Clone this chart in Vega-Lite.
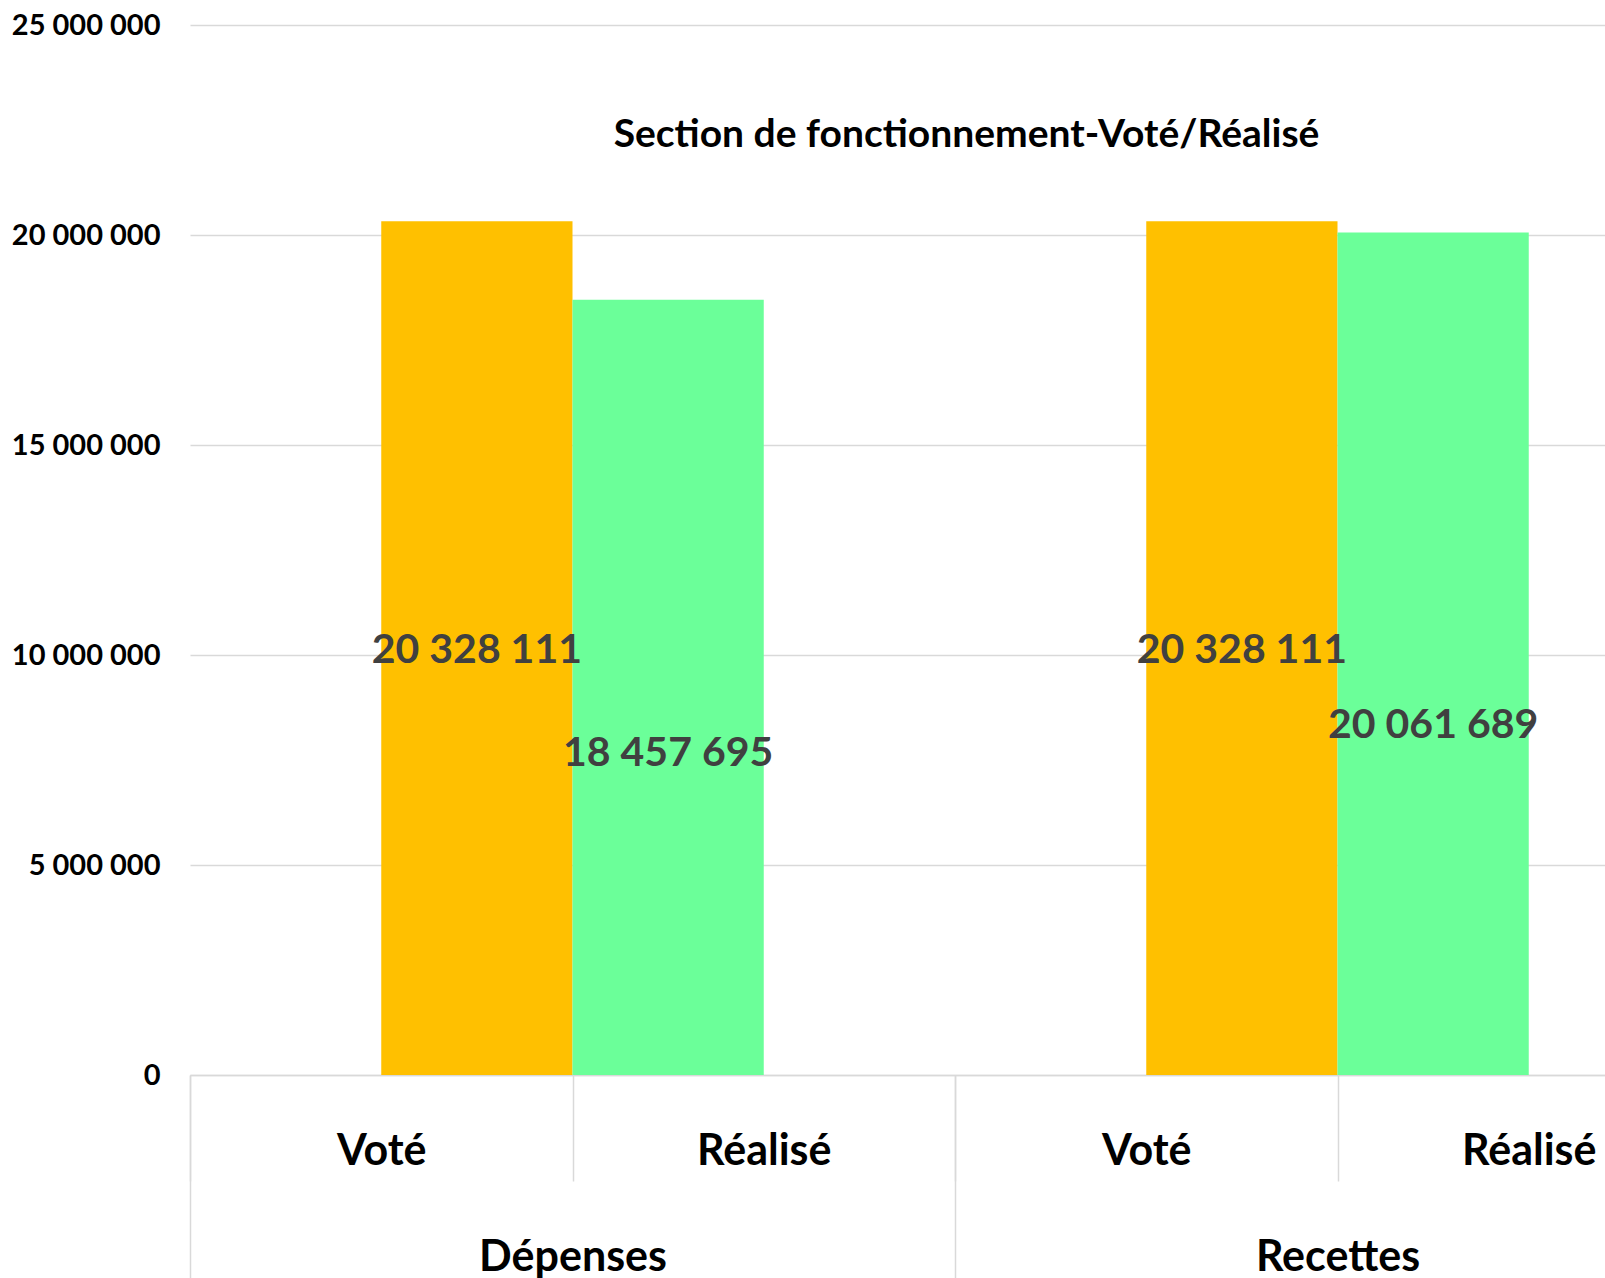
{
  "$schema": "https://vega.github.io/schema/vega-lite/v6.json",
  "autosize": {"type": "none"},
  "padding": {"left": 190, "top": 25, "right": 0, "bottom": 203},
  "width": 1415,
  "height": 1050,
  "background": "white",
  "config": {
    "font": "Lato",
    "view": {"stroke": null},
    "locale": {"number": {"decimal": ",", "thousands": " ", "grouping": [3], "currency": ["", " €"]}}
  },
  "title": {
    "text": "Section de fonctionnement-Voté/Réalisé",
    "font": "Lato",
    "fontSize": 39,
    "fontWeight": "bold",
    "color": "black",
    "anchor": "middle",
    "frame": "group",
    "baseline": "alphabetic",
    "offset": -175,
    "dx": 69
  },
  "data": {
    "values": [
      {"groupe": "Dépenses", "poste": "Voté", "cle": "Dépenses|Voté", "montant": 20328111},
      {"groupe": "Dépenses", "poste": "Réalisé", "cle": "Dépenses|Réalisé", "montant": 18457695},
      {"groupe": "Recettes", "poste": "Voté", "cle": "Recettes|Voté", "montant": 20328111},
      {"groupe": "Recettes", "poste": "Réalisé", "cle": "Recettes|Réalisé", "montant": 20061689}
    ]
  },
  "layer": [
    {
      "mark": {"type": "bar"},
      "encoding": {
        "x": {
          "field": "groupe", "type": "nominal", "sort": null,
          "scale": {"range": [0, 1530], "paddingInner": 0, "paddingOuter": 0},
          "axis": {
            "orient": "bottom", "title": null,
            "labelAngle": 0, "labelFont": "Lato", "labelFontSize": 43, "labelFontWeight": "bold", "labelColor": "black",
            "labelBaseline": "alphabetic", "labelPadding": -10, "labelOverlap": false, "labelBound": false, "labelFlush": false, "labelLimit": 400,
            "tickBand": "extent", "tickSize": 205, "tickColor": "#D9D9D9", "tickWidth": 1.5,
            "domain": false, "grid": false
          }
        },
        "xOffset": {
          "field": "poste", "type": "nominal",
          "scale": {"domain": ["Voté", "Réalisé"], "paddingInner": 0, "paddingOuter": 1}
        },
        "y": {
          "field": "montant", "type": "quantitative",
          "scale": {"domain": [0, 25000000], "nice": false},
          "axis": {
            "title": null, "values": [0, 5000000, 10000000, 15000000, 20000000, 25000000],
            "format": ",d", "labelFont": "Lato", "labelFontSize": 29, "labelFontWeight": "bold", "labelColor": "black",
            "labelPadding": 30, "labelLimit": 400, "ticks": false, "domain": false,
            "grid": true, "gridColor": "#D9D9D9", "gridWidth": 1.5
          }
        },
        "color": {
          "field": "poste", "type": "nominal",
          "scale": {"domain": ["Voté", "Réalisé"], "range": ["#FFC000", "#6BFF99"]},
          "legend": null
        }
      }
    },
    {
      "transform": [{"filter": "datum.poste === 'Voté'"}],
      "mark": {"type": "text", "font": "Lato", "fontSize": 41, "fontWeight": "bold", "color": "#404040", "baseline": "middle", "align": "center"},
      "encoding": {
        "x": {
          "field": "cle", "type": "nominal",
          "bandPosition": 0.75,
          "scale": {"domain": ["Dépenses|Voté", "Dépenses|Réalisé", "Recettes|Voté", "Recettes|Réalisé"], "range": [0, 1530], "paddingInner": 0, "paddingOuter": 0},
          "axis": {
            "orient": "bottom", "title": null,
            "labelExpr": "split(datum.label, '|')[1]",
            "labelAngle": 0, "labelFont": "Lato", "labelFontSize": 43, "labelFontWeight": "bold", "labelColor": "black",
            "labelBaseline": "alphabetic", "labelPadding": -17, "labelOverlap": false, "labelBound": false, "labelFlush": false, "labelLimit": 400,
            "tickBand": "extent", "tickSize": 106, "tickColor": "#D9D9D9", "tickWidth": 1.5,
            "domainColor": "#D9D9D9", "domainWidth": 1.5, "grid": false
          }
        },
        "y": {
          "field": "montant", "type": "quantitative",
          "scale": {"domain": [0, 50400000], "nice": false},
          "axis": null
        },
        "text": {"field": "montant", "type": "quantitative", "format": ",d"}
      }
    },
    {
      "transform": [{"filter": "datum.poste === 'Réalisé'"}],
      "mark": {"type": "text", "font": "Lato", "fontSize": 41, "fontWeight": "bold", "color": "#404040", "baseline": "middle", "align": "center", "dx": -95.6},
      "encoding": {
        "x": {
          "field": "cle", "type": "nominal",
          "scale": {"domain": ["Dépenses|Voté", "Dépenses|Réalisé", "Recettes|Voté", "Recettes|Réalisé"], "range": [0, 1530], "paddingInner": 0, "paddingOuter": 0},
          "axis": null
        },
        "y": {
          "field": "montant", "type": "quantitative",
          "scale": {"domain": [0, 60300000], "nice": false},
          "axis": null
        },
        "text": {"field": "montant", "type": "quantitative", "format": ",d"}
      }
    }
  ],
  "resolve": {
    "scale": {"x": "independent", "y": "independent", "xOffset": "independent"},
    "axis": {"x": "independent", "y": "independent"}
  }
}
